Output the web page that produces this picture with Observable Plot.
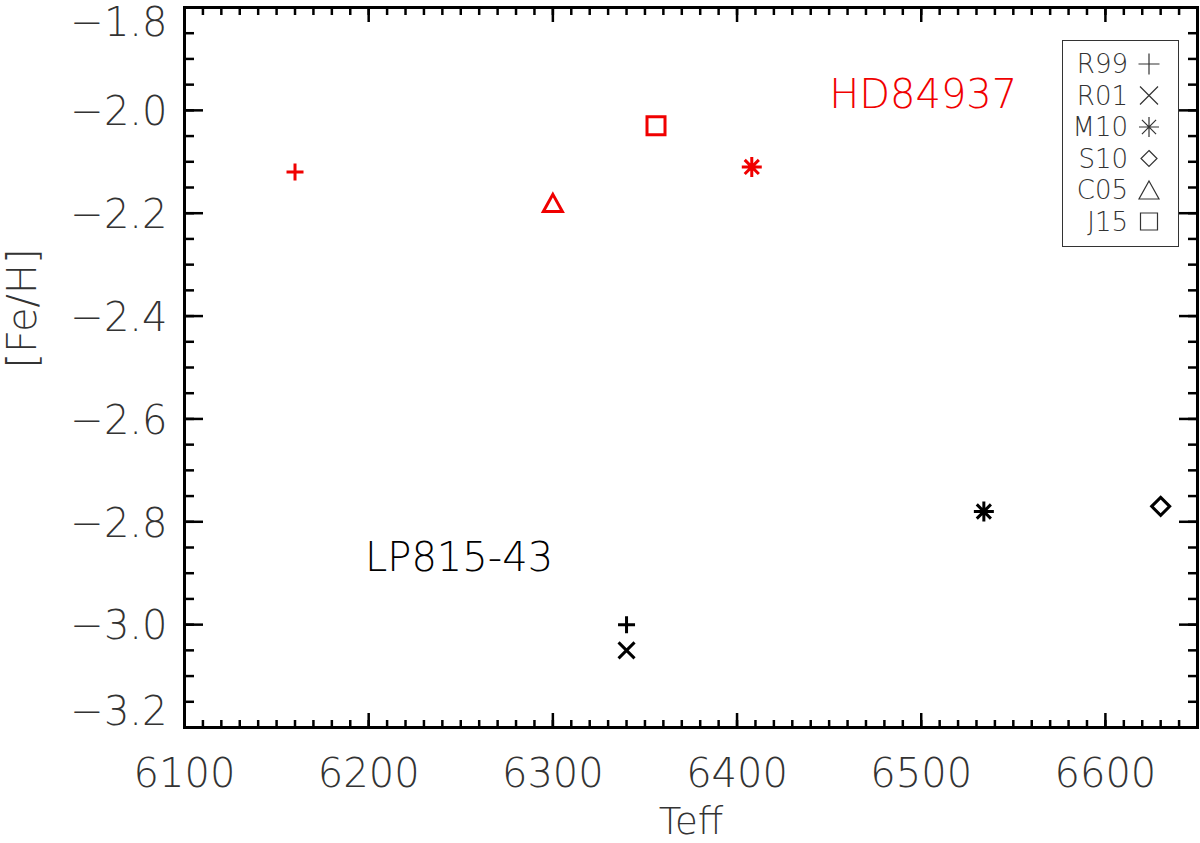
<!DOCTYPE html>
<html><head><meta charset="utf-8">
<script src="https://cdn.jsdelivr.net/npm/d3@7"></script>
<script src="https://cdn.jsdelivr.net/npm/@observablehq/plot@0.6"></script>
<style>
body{margin:0;background:#fff;}
#wrap{position:relative;width:1200px;height:843px;font-family:"DejaVu Sans",sans-serif;}
#legend{position:absolute;left:1062px;top:40px;width:117px;height:207px;border:1px solid #333;box-sizing:border-box;background:#fff;}
#legend svg{position:absolute;left:0;top:0;}
</style></head><body><div id="wrap"></div>
<script>
// ---- data ----
const sources = ["R99","R01","M10","S10","C05","J15"];
const hdSource = ["R99","C05","J15","M10"];
const hdTeff   = [6160, 6300, 6356, 6408];
const hdFeH    = [-2.12, -2.18, -2.03, -2.11];
const lpSource = ["R99","R01","M10","S10"];
const lpTeff   = [6340, 6340, 6534, 6630];
const lpFeH    = [-3.00, -3.05, -2.78, -2.77];
const stars = ["HD84937","LP815-43"];
const starLabelTeff = [6450, 6198];
const starLabelFeH  = [-1.97, -2.87];
const xTicks = [6100,6200,6300,6400,6500,6600];
const yTicks = [-3.2,-3.0,-2.8,-2.6,-2.4,-2.2,-2.0,-1.8];

// ---- styles ----
const starColor = {"HD84937":"#f00000","LP815-43":"#000"};
// symbols; r = half-size
const asterisk8 = {draw(ctx, size){
  const r = Math.sqrt(size/Math.PI), u = r*Math.SQRT1_2;
  ctx.moveTo(-r,0); ctx.lineTo(r,0); ctx.moveTo(0,-r); ctx.lineTo(0,r);
  ctx.moveTo(-u,-u); ctx.lineTo(u,u); ctx.moveTo(-u,u); ctx.lineTo(u,-u);
}};
const plusS = {draw(ctx,size){const r=Math.sqrt(size/Math.PI); ctx.moveTo(-r,0); ctx.lineTo(r,0); ctx.moveTo(0,-r); ctx.lineTo(0,r);}};
const timesS = {draw(ctx,size){const r=Math.sqrt(size/Math.PI); ctx.moveTo(-r,-r); ctx.lineTo(r,r); ctx.moveTo(-r,r); ctx.lineTo(r,-r);}};
const diamondS = {draw(ctx,size){const r=Math.sqrt(size/Math.PI); ctx.moveTo(0,-r); ctx.lineTo(r,0); ctx.lineTo(0,r); ctx.lineTo(-r,0); ctx.closePath();}};
const triangleS = {draw(ctx,size){const r=Math.sqrt(size/Math.PI); const h=r*0.9; ctx.moveTo(0,-h); ctx.lineTo(r,h); ctx.lineTo(-r,h); ctx.closePath();}};
const squareS = {draw(ctx,size){const r=Math.sqrt(size/Math.PI); ctx.rect(-r,-r,2*r,2*r);}};
const symObj = {R99:plusS,R01:timesS,M10:asterisk8,S10:diamondS,C05:triangleS,J15:squareS};
const symR = {R99:8.5,R01:8,M10:10,S10:9,C05:9.5,J15:9};
const legR = {R99:10.5,R01:9,M10:10,S10:8,C05:10,J15:8.5};

const points = [
  ...hdSource.map((s,i)=>({star:"HD84937",source:s,teff:hdTeff[i],feh:hdFeH[i]})),
  ...lpSource.map((s,i)=>({star:"LP815-43",source:s,teff:lpTeff[i],feh:lpFeH[i]}))
];
const labels = stars.map((s,i)=>({star:s,teff:starLabelTeff[i],feh:starLabelFeH[i]}));

const xMinor = d3.range(6100, 6651, 10);
const yMinor = d3.ticks(-3.2, -1.8, 28);
const ink = "#333";
const fmtY = d3.format(".1f");

const marks = [];
// tick marks (inward) on all four sides
for (const anchor of ["bottom","top"]) {
  marks.push(Plot.axisX({anchor, ticks:xMinor, tickSize:-7, strokeWidth:2.5, stroke:"#000", tickFormat:()=>"", label:null}));
  marks.push(Plot.axisX({anchor, ticks:xTicks, tickSize:-14, strokeWidth:2.5, stroke:"#000", tickFormat:()=>"", label:null}));
}
for (const anchor of ["left","right"]) {
  marks.push(Plot.axisY({anchor, ticks:yMinor, tickSize:-10, strokeWidth:2.5, stroke:"#000", tickFormat:()=>"", label:null}));
  marks.push(Plot.axisY({anchor, ticks:yTicks, tickSize:-19, strokeWidth:2.5, stroke:"#000", tickFormat:()=>"", label:null}));
}
// tick labels
marks.push(Plot.axisX({anchor:"bottom", ticks:xTicks, tickSize:0, tickPadding:31, fontSize:40, fill:ink, tickFormat:d3.format("d"), label:null}));
const yInner = yTicks.slice(1, -1);
marks.push(Plot.axisY({anchor:"left", ticks:yInner, tickSize:0, tickPadding:17, fontSize:40, fill:ink, dy:2, tickFormat:fmtY, label:null}));
marks.push(Plot.axisY({anchor:"left", ticks:[yTicks[yTicks.length-1]], tickSize:0, tickPadding:17, fontSize:40, fill:ink, dy:16, tickFormat:fmtY, label:null}));
marks.push(Plot.axisY({anchor:"left", ticks:[yTicks[0]], tickSize:0, tickPadding:17, fontSize:40, fill:ink, dy:-15, tickFormat:fmtY, label:null}));
// axis titles
marks.push(Plot.text(["Teff"], {frameAnchor:"bottom", dy:95, text:d=>d, fontSize:37, fill:ink, lineAnchor:"middle"}));
marks.push(Plot.text(["[Fe/H]"], {frameAnchor:"left", dx:-161, dy:1, rotate:-90, text:d=>d, fontSize:40, fill:ink, lineAnchor:"middle"}));
// frame
marks.push(Plot.frame({stroke:"#000", strokeWidth:3}));
// star labels
for (const s of stars) {
  marks.push(Plot.text(labels.filter(d=>d.star===s), {x:"teff", y:"feh", text:"star", textAnchor:"start", lineAnchor:"middle", fontSize:40, fill:starColor[s]}));
}
// points
for (const s of stars) for (const src of sources) {
  const data = points.filter(d=>d.star===s && d.source===src);
  if (!data.length) continue;
  marks.push(Plot.dot(data, {x:"teff", y:"feh", symbol:symObj[src], r:symR[src], stroke:starColor[s], strokeWidth:3, fill:"none"}));
}

const chart = Plot.plot({
  width:1200, height:843,
  marginLeft:184, marginRight:3, marginTop:7, marginBottom:116,
  x:{domain:[6100,6650]},
  y:{domain:[-3.2,-1.8]},
  style:{fontFamily:"DejaVu Sans, sans-serif", fontWeight:200, background:"#fff"},
  marks
});
const wrap = document.getElementById("wrap");
wrap.appendChild(chart);

// legend
const leg = document.createElement("div");
leg.id = "legend";
wrap.appendChild(leg);
const svg = d3.select(leg).append("svg").attr("width",117).attr("height",207);
sources.forEach((src,i)=>{
  const y = 23 + i*31.5;
  svg.append("text").attr("x",65).attr("y",y).attr("dy","0.36em").attr("text-anchor","end")
    .attr("font-size",26).attr("font-weight",200).attr("fill",ink).attr("font-family","DejaVu Sans, sans-serif").text(src);
  svg.append("path").attr("transform",`translate(86,${y})`)
    .attr("d", d3.symbol(symObj[src], Math.PI*legR[src]*legR[src])())
    .attr("fill","none").attr("stroke",ink).attr("stroke-width",1.2);
});
</script></body></html>
